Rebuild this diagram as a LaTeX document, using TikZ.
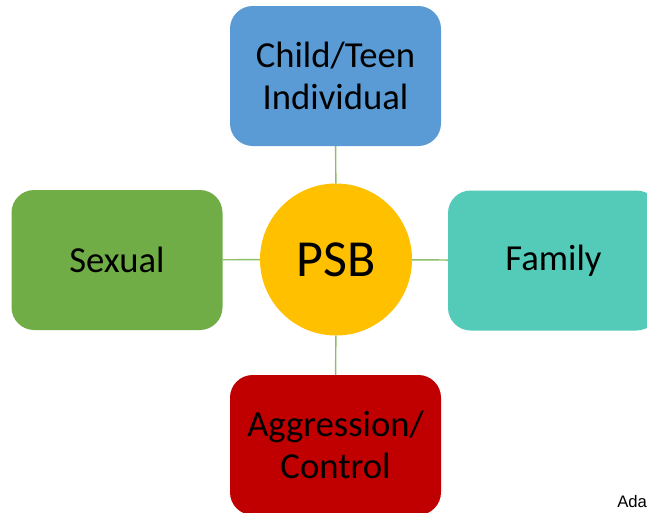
\documentclass[tikz,border=0pt]{standalone}
\usepackage{fontspec}
\setmainfont{Carlito}
\newfontfamily\arialfont{Liberation Sans}
\usetikzlibrary{positioning}
\definecolor{topblue}{HTML}{5B9BD5}
\definecolor{sexgreen}{HTML}{70AD47}
\definecolor{famteal}{HTML}{53CBB8}
\definecolor{aggred}{HTML}{C00000}
\definecolor{psbyellow}{HTML}{FFC000}
\definecolor{linkgreen}{HTML}{8DBF6A}
\tikzset{
  area/.style={rectangle, rounded corners=17pt, minimum width=158.25pt, minimum height=105pt,
    inner sep=0pt, outer sep=0pt, align=center, font=\fontsize{27.5}{31}\selectfont},
  hub/.style={circle, fill=psbyellow, minimum size=114pt, inner sep=0pt, outer sep=0pt,
    font=\fontsize{39}{44}\selectfont},
  link/.style={draw=linkgreen, line width=1.1pt}
}
\begin{document}
\begin{tikzpicture}[x=0.75pt, y=-0.75pt]
			%%%%% START %%%%%
			
			\useasboundingbox (0,0) rectangle (647,512);
			\clip (0,0) rectangle (647,512);
			
			\node[hub] (psb) at (336, 259.5) {PSB};
			
			\node[area, fill=topblue] (teen) at (335.5, 76) {Child/Teen\\Individual};
			\node[area, fill=sexgreen] (sexual) at (117, 260) {Sexual};
			\node[area, fill=famteal] (family) at (553.5, 260.5) {Family};
			\node[area, fill=aggred] (aggr) at (335.5, 445) {Aggression/\\Control};
			
			\draw[link] (psb) -- (teen);
			\draw[link] (psb) -- (sexual);
			\draw[link] (psb) -- (family);
			\draw[link] (psb) -- (aggr);
			
			\node[anchor=base west, inner sep=0pt, font=\arialfont\fontsize{12.5}{14}\selectfont] (ada) at (617, 507) {Ada};
			
			%%%%% END %%%%%
\end{tikzpicture}
\end{document}
